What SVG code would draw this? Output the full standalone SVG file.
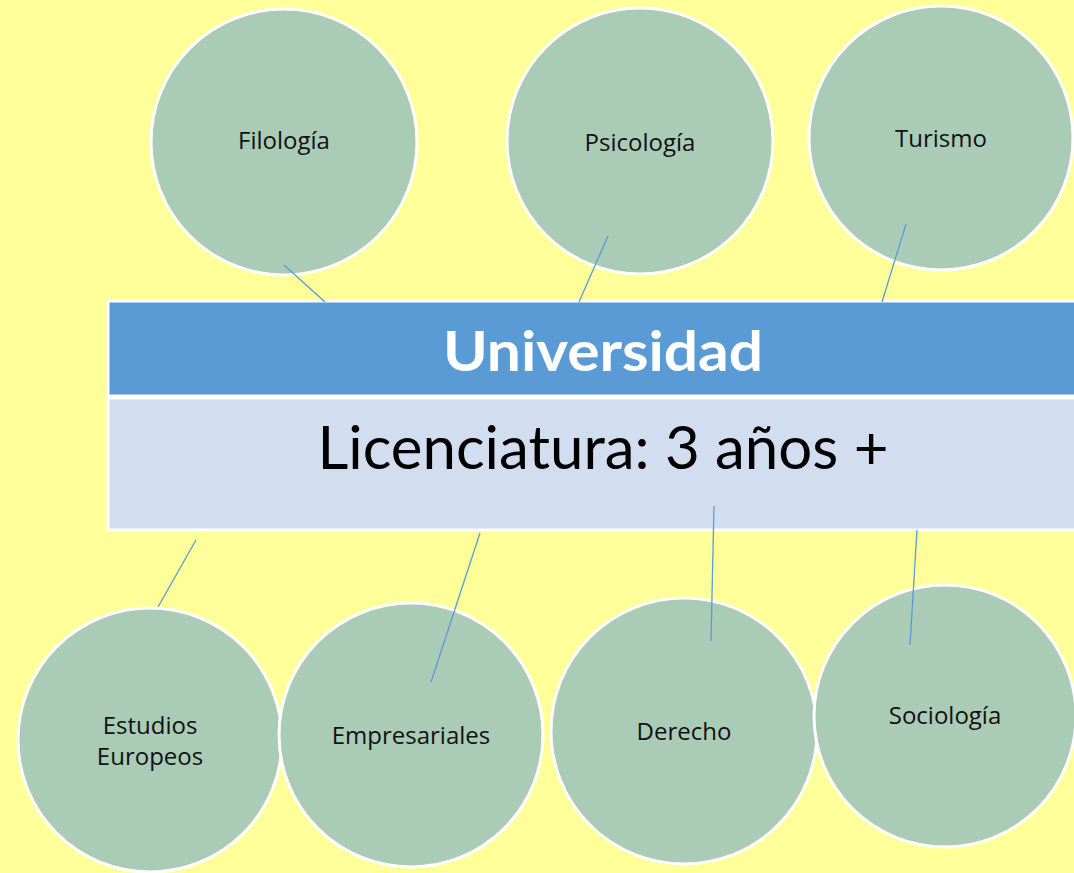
<svg xmlns="http://www.w3.org/2000/svg" width="1074" height="873" viewBox="0 0 1074 873">
<style>
.c{fill:#AACBB6;stroke:#FFFFFF;stroke-width:3}
.t{font-family:"Open Sans",Lato,sans-serif;font-size:24px;fill:#111;text-anchor:middle}
.ln{stroke:#5B9BD5;stroke-width:1.3;fill:none}
</style>
<rect width="1074" height="873" fill="#FFFF99"/>
<g id="filologia"><circle class="c" cx="284" cy="142" r="133"/><text class="t" x="284" y="149">Filología</text></g>
<g id="psicologia"><circle class="c" cx="640" cy="141" r="133"/><text class="t" x="640" y="151">Psicología</text></g>
<g id="turismo"><circle class="c" cx="941" cy="138" r="132"/><text class="t" x="941" y="147">Turismo</text></g>
<g id="estudios"><circle class="c" cx="150" cy="740" r="132"/><text class="t" x="150" y="734">Estudios</text><text class="t" x="150" y="765">Europeos</text></g>
<g id="empresariales"><circle class="c" cx="411" cy="735" r="132"/><text class="t" x="411" y="744">Empresariales</text></g>
<g id="derecho"><circle class="c" cx="684" cy="731" r="133"/><text class="t" x="684" y="740">Derecho</text></g>
<g id="sociologia"><circle class="c" cx="945" cy="716" r="131"/><text class="t" x="945" y="724">Sociología</text></g>
<g id="universidad">
<rect x="108" y="301" width="970" height="95" fill="#5B9BD5" stroke="#FFFFFF" stroke-width="3"/>
<rect x="108" y="398" width="970" height="132" fill="#D2DEEF" stroke="#FFFFFF" stroke-width="3"/>
<text x="603" y="371" font-family="Lato,'Open Sans',sans-serif" font-size="56" font-weight="bold" fill="#FFFFFF" text-anchor="middle" textLength="320" lengthAdjust="spacingAndGlyphs">Universidad</text>
<text x="603" y="469" font-family="Lato,'Open Sans',sans-serif" font-size="60" fill="#000000" text-anchor="middle" textLength="571" lengthAdjust="spacingAndGlyphs">Licenciatura: 3 años +</text>
</g>
<g id="connectors">
<line class="ln" x1="284" y1="265" x2="325" y2="302"/>
<line class="ln" x1="608" y1="236" x2="579" y2="302"/>
<line class="ln" x1="906" y1="224" x2="882" y2="302"/>
<line class="ln" x1="196" y1="540" x2="158" y2="607"/>
<line class="ln" x1="480" y1="533" x2="431" y2="682"/>
<line class="ln" x1="714" y1="506" x2="711" y2="641"/>
<line class="ln" x1="917" y1="530" x2="910" y2="645"/>
</g>
</svg>
